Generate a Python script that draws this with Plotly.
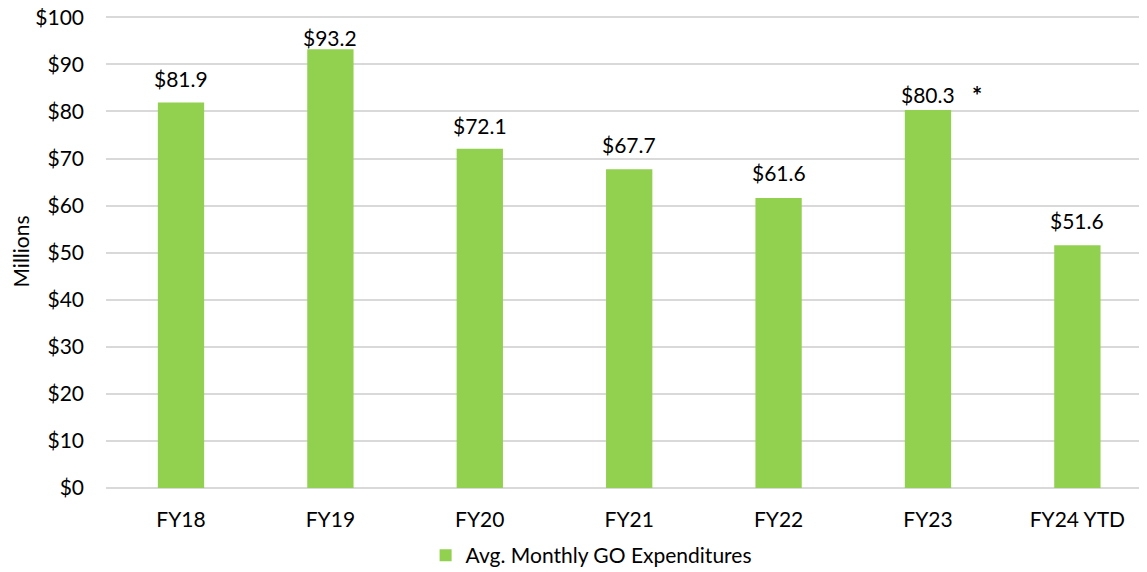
import plotly.graph_objects as go

categories = ["FY18", "FY19", "FY20", "FY21", "FY22", "FY23", "FY24 YTD"]
values = [81.9, 93.2, 72.1, 67.7, 61.6, 80.3, 51.6]
labels = ["$81.9", "$93.2", "$72.1", "$67.7", "$61.6", "$80.3", "$51.6"]
tick_vals = [0, 10, 20, 30, 40, 50, 60, 70, 80, 90, 100]
tick_text = ["$0", "$10", "$20", "$30", "$40", "$50", "$60", "$70", "$80", "$90", "$100"]
series_name = "Avg. Monthly GO Expenditures"
axis_title = "Millions"

FONT = "Lato, 'Open Sans', sans-serif"
FS = 21

# label offsets (pixels) above bar tops, as placed in the original
label_shift = [10, -3, 9, 10, 11, 1, 10]

fig = go.Figure()
fig.add_trace(go.Bar(
    x=list(range(len(categories))),
    y=values,
    name=series_name,
    marker=dict(color="#92D050", line=dict(width=0)),
    width=0.31,
    showlegend=True,
))

for i, (v, t) in enumerate(zip(values, labels)):
    fig.add_annotation(
        x=i, y=v, xref="x", yref="y", text=t, showarrow=False,
        yanchor="bottom", yshift=label_shift[i],
        font=dict(family=FONT, size=FS, color="#000000"),
    )

fig.add_annotation(
    x=5, y=values[5], xref="x", yref="y",
    text="<b>*</b>", showarrow=False,
    xshift=49, yshift=-2, yanchor="bottom",
    font=dict(family=FONT, size=24, color="#000000"),
)

fig.add_annotation(
    x=0, y=0.5, xref="paper", yref="paper", xshift=-86,
    text=axis_title, textangle=-90, showarrow=False,
    xanchor="center", yanchor="middle",
    font=dict(family=FONT, size=FS, color="#000000"),
)

fig.update_layout(
    width=1139, height=564,
    margin=dict(l=98, r=0, t=7, b=84, autoexpand=False),
    paper_bgcolor="white", plot_bgcolor="white",
    font=dict(family=FONT, size=FS, color="#000000"),
    bargap=0.69,
    legend=dict(
        orientation="h", x=0.466, xanchor="center", xref="paper",
        y=0.029, yanchor="middle", yref="container",
        font=dict(family=FONT, size=FS),
        itemwidth=30,
    ),
    xaxis=dict(
        range=[-0.502, 6.466],
        tickmode="array",
        tickvals=list(range(len(categories))),
        ticktext=categories,
        showgrid=False, zeroline=False,
        showline=False,
        ticks="",
        automargin=False,
        ticklabelstandoff=17,
        tickfont=dict(family=FONT, size=FS),
    ),
    yaxis=dict(
        range=[0, 100.5],
        tickmode="array",
        tickvals=tick_vals,
        ticktext=tick_text,
        showgrid=True, gridcolor="#D9D9D9", gridwidth=1.5,
        zeroline=True, zerolinecolor="#D9D9D9", zerolinewidth=1.5,
        ticks="",
        automargin=False,
        ticklabeloverflow="allow",
        ticklabelstandoff=21,
        tickfont=dict(family=FONT, size=FS),
    ),
)

fig.write_html("out.html")
